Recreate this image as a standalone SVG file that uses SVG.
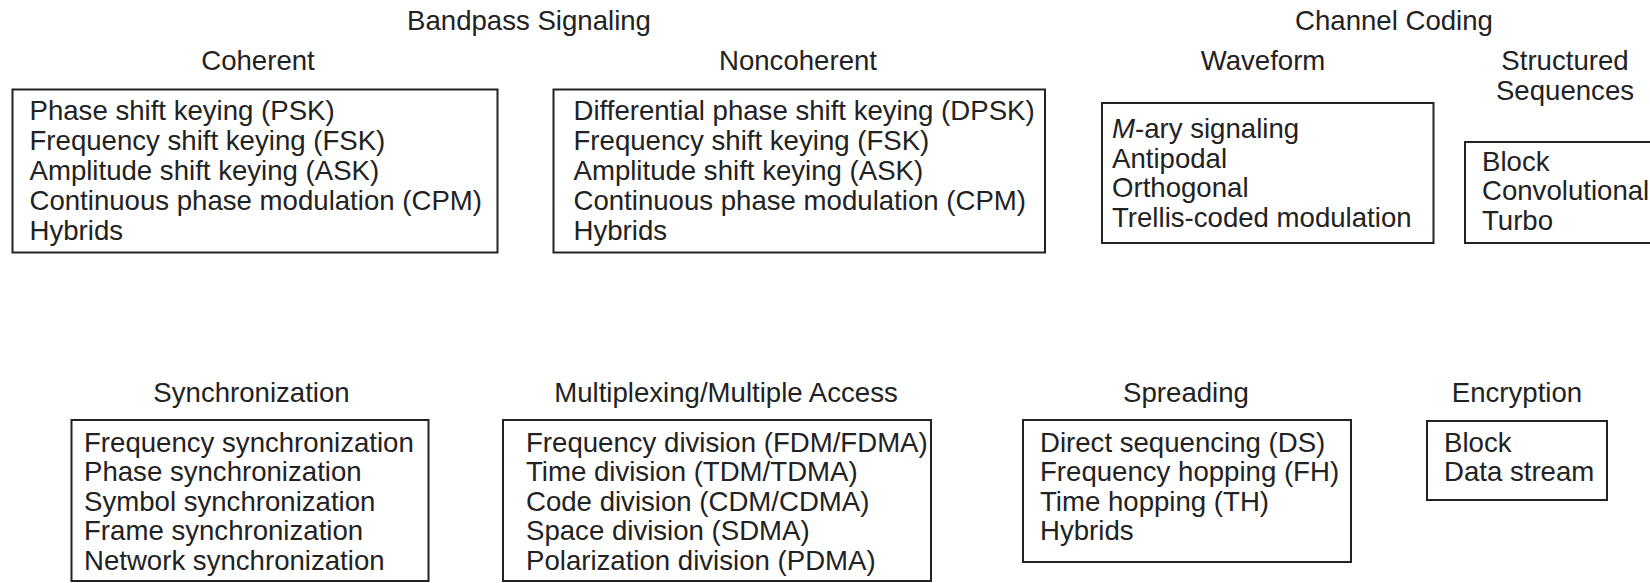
<svg xmlns="http://www.w3.org/2000/svg" width="1650" height="583" viewBox="0 0 1650 583">
  <style>
    .bg { fill: #ffffff; }
    .box { fill: none; stroke: #222222; stroke-width: 2; }
    text { font-family: "Liberation Sans", Arial, Helvetica, sans-serif; font-size: 27.6px; fill: #222222; }
    .hd { text-anchor: middle; }
  </style>
  <rect class="bg" x="0" y="0" width="1650" height="583"/>

  <!-- section titles -->
  <g id="titles">
    <text class="hd" x="529" y="30">Bandpass Signaling</text>
    <text class="hd" x="1394" y="30">Channel Coding</text>
  </g>

  <g id="coherent">
    <text class="hd" x="258" y="70">Coherent</text>
    <rect class="box" x="12.5" y="89.5" width="485" height="163"/>
    <text x="29.5" y="119.5">Phase shift keying (PSK)</text>
    <text x="29.5" y="149.5">Frequency shift keying (FSK)</text>
    <text x="29.5" y="179.5">Amplitude shift keying (ASK)</text>
    <text x="29.5" y="209.5">Continuous phase modulation (CPM)</text>
    <text x="29.5" y="239.5">Hybrids</text>
  </g>

  <g id="noncoherent">
    <text class="hd" x="798" y="70">Noncoherent</text>
    <rect class="box" x="553.5" y="89.5" width="491.5" height="163"/>
    <text x="573.5" y="119.5">Differential phase shift keying (DPSK)</text>
    <text x="573.5" y="149.5">Frequency shift keying (FSK)</text>
    <text x="573.5" y="179.5">Amplitude shift keying (ASK)</text>
    <text x="573.5" y="209.5">Continuous phase modulation (CPM)</text>
    <text x="573.5" y="239.5">Hybrids</text>
  </g>

  <g id="waveform">
    <text class="hd" x="1263" y="70">Waveform</text>
    <rect class="box" x="1102" y="103" width="331.5" height="140"/>
    <text x="1112" y="138"><tspan font-style="italic">M</tspan>-ary signaling</text>
    <text x="1112" y="167.5">Antipodal</text>
    <text x="1112" y="197">Orthogonal</text>
    <text x="1112" y="226.5">Trellis-coded modulation</text>
  </g>

  <g id="structured-sequences">
    <text class="hd" x="1565" y="70">Structured</text>
    <text class="hd" x="1565" y="100">Sequences</text>
    <!-- box runs past the right edge -->
    <path class="box" d="M1660,142 H1465 V243 H1660"/>
    <text x="1482" y="170.5">Block</text>
    <text x="1482" y="200">Convolutional</text>
    <text x="1482" y="229.5">Turbo</text>
  </g>

  <g id="synchronization">
    <text class="hd" x="251.5" y="401.5">Synchronization</text>
    <rect class="box" x="71.5" y="420" width="357" height="161"/>
    <text x="84" y="451.5">Frequency synchronization</text>
    <text x="84" y="481">Phase synchronization</text>
    <text x="84" y="510.5">Symbol synchronization</text>
    <text x="84" y="540">Frame synchronization</text>
    <text x="84" y="569.5">Network synchronization</text>
  </g>

  <g id="multiplexing">
    <text class="hd" x="726" y="401.5">Multiplexing/Multiple Access</text>
    <rect class="box" x="503" y="420" width="428" height="161"/>
    <text x="526" y="451.5">Frequency division (FDM/FDMA)</text>
    <text x="526" y="481">Time division (TDM/TDMA)</text>
    <text x="526" y="510.5">Code division (CDM/CDMA)</text>
    <text x="526" y="540">Space division (SDMA)</text>
    <text x="526" y="569.5">Polarization division (PDMA)</text>
  </g>

  <g id="spreading">
    <text class="hd" x="1186" y="401.5">Spreading</text>
    <rect class="box" x="1023" y="420" width="328" height="142"/>
    <text x="1040" y="451.5">Direct sequencing (DS)</text>
    <text x="1040" y="481">Frequency hopping (FH)</text>
    <text x="1040" y="510.5">Time hopping (TH)</text>
    <text x="1040" y="540">Hybrids</text>
  </g>

  <g id="encryption">
    <text class="hd" x="1517" y="401.5">Encryption</text>
    <rect class="box" x="1427" y="421" width="180" height="79"/>
    <text x="1444" y="451.5">Block</text>
    <text x="1444" y="481">Data stream</text>
  </g>

  <!-- no connectors in this chart -->
  <g id="connectors"/>
</svg>
